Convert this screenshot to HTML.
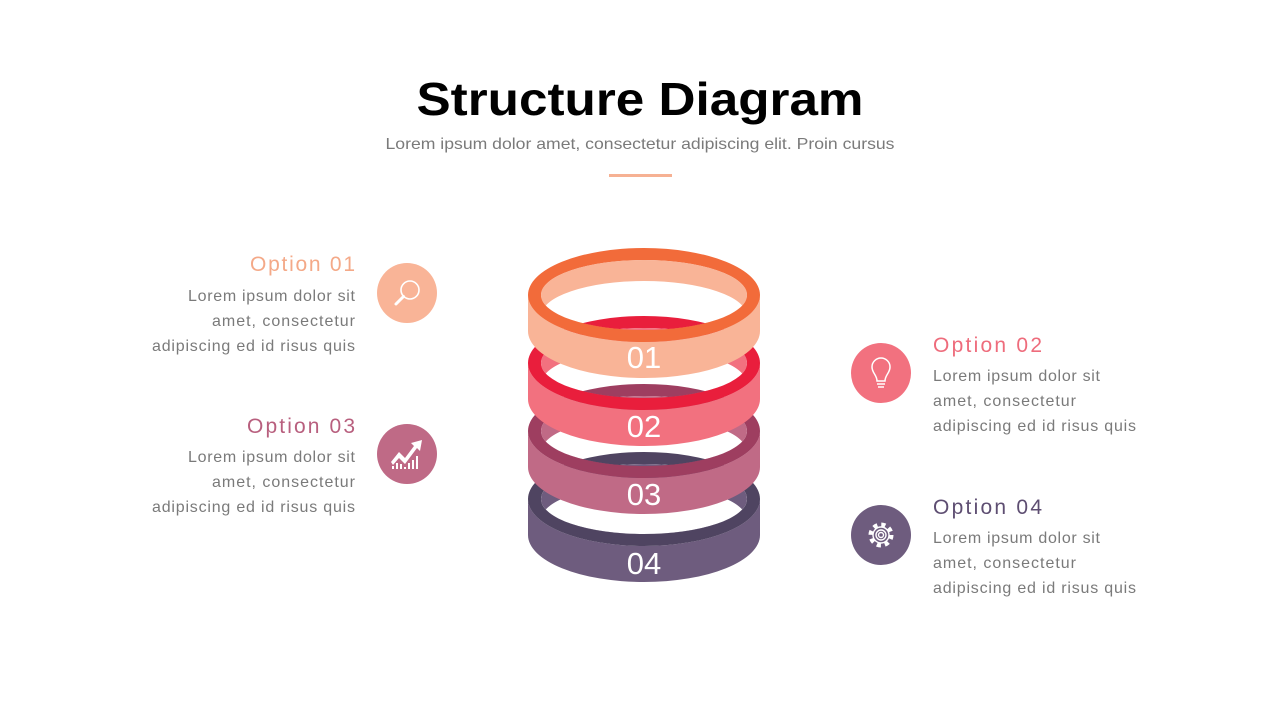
<!DOCTYPE html>
<html><head><meta charset="utf-8"><style>
html,body{margin:0;padding:0;background:#fff;}
svg{display:block;font-family:"Liberation Sans",sans-serif;}
</style></head><body>
<svg width="1280" height="720" viewBox="0 0 1280 720" xmlns="http://www.w3.org/2000/svg">
<rect width="1280" height="720" fill="#fff"/>
<text x="640" y="115" text-anchor="middle" font-size="46" font-weight="bold" fill="#000" textLength="447" lengthAdjust="spacingAndGlyphs">Structure Diagram</text>
<text x="640" y="149" text-anchor="middle" font-size="16" fill="#7a7a7a" textLength="509" lengthAdjust="spacingAndGlyphs">Lorem ipsum dolor amet, consectetur adipiscing elit. Proin cursus</text>
<rect x="609" y="174" width="63" height="3" fill="#F6B193"/>

<defs>
<clipPath id="c0"><ellipse cx="644" cy="295" rx="103" ry="35"/></clipPath>
<clipPath id="c1"><ellipse cx="644" cy="363" rx="103" ry="35"/></clipPath>
<clipPath id="c2"><ellipse cx="644" cy="431" rx="103" ry="35"/></clipPath>
<clipPath id="c3"><ellipse cx="644" cy="499" rx="103" ry="35"/></clipPath>
</defs>

<!-- ring 4 -->
<g>
<path d="M528,499 A116,47 0 0 0 760,499 L760,535 A116,47 0 0 1 528,535 Z" fill="#6E5C7E"/>
<path clip-path="url(#c3)" fill-rule="evenodd" fill="#6E5C7E" d="M541,499 A103,35 0 1 0 747,499 A103,35 0 1 0 541,499 Z M541,520 A103,35 0 1 0 747,520 A103,35 0 1 0 541,520 Z"/>
<path fill-rule="evenodd" fill="#4F4461" d="M528,499 A116,47 0 1 0 760,499 A116,47 0 1 0 528,499 Z M541,499 A103,35 0 1 0 747,499 A103,35 0 1 0 541,499 Z"/>
<text x="644" y="574" text-anchor="middle" font-size="31" fill="#fff">04</text>
</g>
<!-- ring 3 -->
<g>
<path d="M528,431 A116,47 0 0 0 760,431 L760,467 A116,47 0 0 1 528,467 Z" fill="#C06A86"/>
<path clip-path="url(#c2)" fill-rule="evenodd" fill="#C06A86" d="M541,431 A103,35 0 1 0 747,431 A103,35 0 1 0 541,431 Z M541,452 A103,35 0 1 0 747,452 A103,35 0 1 0 541,452 Z"/>
<path fill-rule="evenodd" fill="#9E3E60" d="M528,431 A116,47 0 1 0 760,431 A116,47 0 1 0 528,431 Z M541,431 A103,35 0 1 0 747,431 A103,35 0 1 0 541,431 Z"/>
<text x="644" y="505" text-anchor="middle" font-size="31" fill="#fff">03</text>
</g>
<!-- ring 2 -->
<g>
<path d="M528,363 A116,47 0 0 0 760,363 L760,399 A116,47 0 0 1 528,399 Z" fill="#F2717F"/>
<path clip-path="url(#c1)" fill-rule="evenodd" fill="#F2717F" d="M541,363 A103,35 0 1 0 747,363 A103,35 0 1 0 541,363 Z M541,384 A103,35 0 1 0 747,384 A103,35 0 1 0 541,384 Z"/>
<path fill-rule="evenodd" fill="#E91E3C" d="M528,363 A116,47 0 1 0 760,363 A116,47 0 1 0 528,363 Z M541,363 A103,35 0 1 0 747,363 A103,35 0 1 0 541,363 Z"/>
<text x="644" y="437" text-anchor="middle" font-size="31" fill="#fff">02</text>
</g>
<!-- ring 1 -->
<g>
<path d="M528,295 A116,47 0 0 0 760,295 L760,331 A116,47 0 0 1 528,331 Z" fill="#F9B497"/>
<path clip-path="url(#c0)" fill-rule="evenodd" fill="#F9B497" d="M541,295 A103,35 0 1 0 747,295 A103,35 0 1 0 541,295 Z M541,316 A103,35 0 1 0 747,316 A103,35 0 1 0 541,316 Z"/>
<path fill-rule="evenodd" fill="#F26B3A" d="M528,295 A116,47 0 1 0 760,295 A116,47 0 1 0 528,295 Z M541,295 A103,35 0 1 0 747,295 A103,35 0 1 0 541,295 Z"/>
<text x="644" y="368" text-anchor="middle" font-size="31" fill="#fff">01</text>
</g>

<!-- left texts -->
<g text-anchor="end" font-size="16" fill="#7a7a7a" lengthAdjust="spacingAndGlyphs">
<text x="355" y="271" font-size="21" fill="#F4A988" textLength="105">Option 01</text>
<text x="355" y="301" textLength="167">Lorem ipsum dolor sit</text>
<text x="355" y="326" textLength="143">amet, consectetur</text>
<text x="355" y="351" textLength="203">adipiscing ed id risus quis</text>
<text x="355" y="433" font-size="21" fill="#B85F7E" textLength="108">Option 03</text>
<text x="355" y="462" textLength="167">Lorem ipsum dolor sit</text>
<text x="355" y="487" textLength="143">amet, consectetur</text>
<text x="355" y="512" textLength="203">adipiscing ed id risus quis</text>
</g>
<!-- right texts -->
<g font-size="16" fill="#7a7a7a" lengthAdjust="spacingAndGlyphs">
<text x="933" y="352" font-size="21" fill="#EE6C7C" textLength="109">Option 02</text>
<text x="933" y="381" textLength="167">Lorem ipsum dolor sit</text>
<text x="933" y="406" textLength="143">amet, consectetur</text>
<text x="933" y="431" textLength="203">adipiscing ed id risus quis</text>
<text x="933" y="514" font-size="21" fill="#5E4E72" textLength="109">Option 04</text>
<text x="933" y="543" textLength="167">Lorem ipsum dolor sit</text>
<text x="933" y="568" textLength="143">amet, consectetur</text>
<text x="933" y="593" textLength="203">adipiscing ed id risus quis</text>
</g>

<!-- icons -->
<circle cx="407" cy="293" r="30" fill="#F9B497"/>
<g stroke="#fff" stroke-width="1.6" fill="none">
<circle cx="410" cy="290" r="9"/>
<line x1="403.5" y1="296.5" x2="396" y2="304" stroke-width="3" stroke-linecap="round"/>
</g>
<circle cx="407" cy="454" r="30" fill="#BF6A86"/>
<g fill="#fff">
<path d="M391,462 L399,452 L405,458 L414,446 L411,443 L422,440 L420,451 L417,448 L405,464 L399,458 L393,465 Z"/>
<rect x="392" y="466" width="2" height="3"/><rect x="396" y="463" width="2" height="6"/><rect x="400" y="464" width="2" height="5"/><rect x="404" y="467" width="2" height="2"/><rect x="408" y="463" width="2" height="6"/><rect x="412" y="460" width="2" height="9"/><rect x="416" y="456" width="2" height="13"/>
</g>
<circle cx="881" cy="373" r="30" fill="#F2717F"/>
<g stroke="#fff" stroke-width="1.5" fill="none">
<path d="M877,381 C877,375 872,373 872,367 A9,9 0 0 1 890,367 C890,373 885,375 885,381 Z"/>
<line x1="877" y1="384" x2="885" y2="384"/><line x1="878" y1="387" x2="884" y2="387"/>
</g>
<circle cx="881" cy="535" r="30" fill="#6E5C7E"/>
<g stroke="#fff" stroke-width="1.4" fill="none">
<circle cx="881" cy="535" r="10" stroke-dasharray="4 3.85" stroke-width="5"/>
<circle cx="881" cy="535" r="8" fill="#6E5C7E"/>
<circle cx="881" cy="535" r="5"/>
<circle cx="881" cy="535" r="2.5"/>
</g>
</svg>
</body></html>
